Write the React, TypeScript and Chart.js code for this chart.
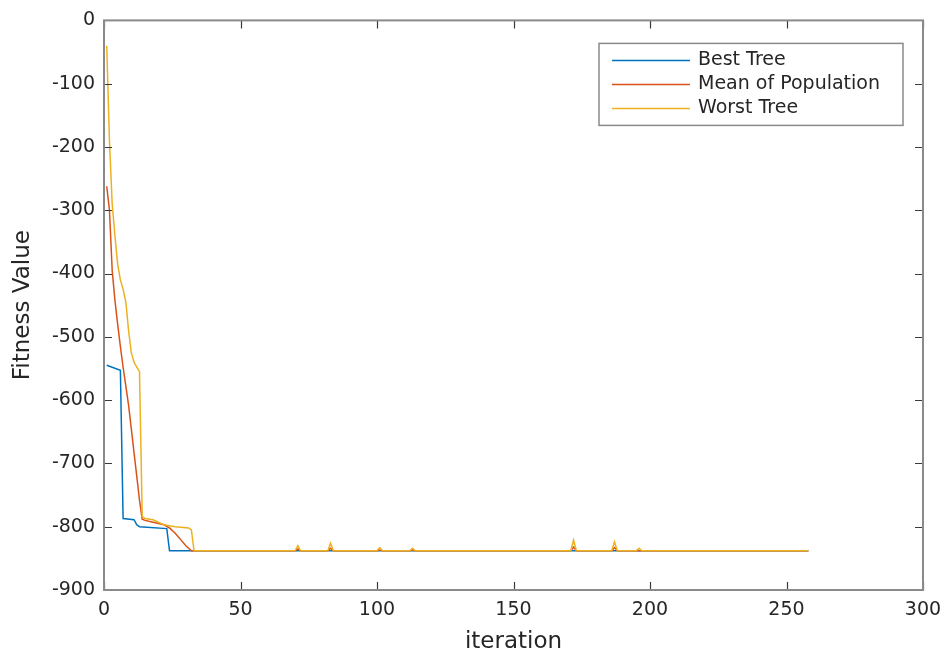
import React, { useEffect, useRef } from "react";
import { Chart, registerables } from "chart.js";

Chart.register(...registerables);

const seriesNames = ["Best Tree", "Mean of Population", "Worst Tree"];
const seriesColors = ["#0072BD", "#D95319", "#EDB120"];

const xTicks = [0, 50, 100, 150, 200, 250, 300];
const yTicks = [0, -100, -200, -300, -400, -500, -600, -700, -800, -900];

const bestIter = [1, 6, 7, 11, 12, 13, 23, 24, 258];
const bestValue = [-545, -553, -787, -789, -797, -800, -803, -838, -838];

const meanIter = [
  1, 2, 3, 4, 5, 6, 7, 8, 9, 10, 11, 12, 13, 14, 15, 18, 22, 24, 26, 28, 30, 32,
  70, 71, 72, 82, 83, 84, 100, 101, 102, 112, 113, 114, 171, 172, 173, 186, 187, 188, 258,
];
const meanValue = [
  -262, -300, -395, -442, -480, -515, -548, -578, -608, -645, -683, -720, -758, -788, -790, -793, -797, -802, -810, -820, -830, -838,
  -838, -835, -838, -838, -834, -838, -838, -837, -838, -838, -837, -838, -838, -832, -838, -838, -833, -838, -838,
];

const worstIter = [
  1, 2, 3, 4, 5, 6, 7, 8, 9, 10, 11, 12, 13, 14, 15, 18, 22, 26, 31, 32, 33,
  70, 71, 72, 82, 83, 84, 100, 101, 102, 112, 113, 114, 171, 172, 173, 186, 187, 188, 195, 196, 197, 258,
];
const worstValue = [
  -40, -190, -290, -340, -385, -410, -425, -445, -490, -525, -540, -548, -555, -784, -787, -789, -797, -800, -802, -805, -838,
  -838, -830, -838, -838, -826, -838, -838, -833, -838, -838, -834, -838, -838, -821, -838, -838, -824, -838, -838, -834, -838, -838,
];

const FONT = "'DejaVu Sans', 'Liberation Sans', Arial, sans-serif";

function pts(xs: number[], ys: number[]) {
  return xs.map((x, i) => ({ x, y: ys[i] }));
}

const framePlugin = {
  id: "matlabFrame",
  afterDraw(chart: any) {
    const { ctx, chartArea: a, scales } = chart;
    ctx.save();
    ctx.strokeStyle = "#3a3a3a";
    ctx.lineWidth = 1.2;
    const tl = 8;
    xTicks.forEach((v) => {
      const px = Math.round(scales.x.getPixelForValue(v)) + 0.5;
      ctx.beginPath();
      ctx.moveTo(px, a.bottom);
      ctx.lineTo(px, a.bottom - tl);
      ctx.moveTo(px, a.top);
      ctx.lineTo(px, a.top + tl);
      ctx.stroke();
    });
    yTicks.forEach((v) => {
      const py = Math.round(scales.y.getPixelForValue(v)) + 0.5;
      ctx.beginPath();
      ctx.moveTo(a.left, py);
      ctx.lineTo(a.left + tl, py);
      ctx.moveTo(a.right, py);
      ctx.lineTo(a.right - tl, py);
      ctx.stroke();
    });
    ctx.strokeStyle = "#8a8a8a";
    ctx.lineWidth = 2;
    ctx.strokeRect(a.left, a.top, a.right - a.left, a.bottom - a.top);

    // legend
    const bw = 304;
    const bh = 82;
    const bx = a.right - 20 - bw;
    const by = a.top + 23;
    ctx.fillStyle = "#ffffff";
    ctx.fillRect(bx, by, bw, bh);
    ctx.strokeStyle = "#8a8a8a";
    ctx.lineWidth = 1.5;
    ctx.strokeRect(bx, by, bw, bh);
    ctx.font = `19px ${FONT}`;
    ctx.textBaseline = "middle";
    ctx.textAlign = "left";
    seriesNames.forEach((name, i) => {
      const y = by + 17 + i * 24;
      ctx.strokeStyle = seriesColors[i];
      ctx.lineWidth = 1.5;
      ctx.beginPath();
      ctx.moveTo(bx + 13, y);
      ctx.lineTo(bx + 91, y);
      ctx.stroke();
      ctx.fillStyle = "#262626";
      ctx.fillText(name, bx + 99, y);
    });
    ctx.restore();
  },
};

export default function App() {
  const ref = useRef<HTMLCanvasElement | null>(null);

  useEffect(() => {
    document.body.style.margin = "0";
    const canvas = ref.current;
    if (!canvas) return;
    const series = [
      pts(bestIter, bestValue),
      pts(meanIter, meanValue),
      pts(worstIter, worstValue),
    ];
    const chart = new Chart(canvas, {
      type: "line",
      data: {
        datasets: series.map((d, i) => ({
          label: seriesNames[i],
          data: d,
          borderColor: seriesColors[i],
          backgroundColor: seriesColors[i],
          borderWidth: 1.5,
          pointRadius: 0,
          tension: 0,
          fill: false,
          order: 2 - i,
        })),
      },
      options: {
        responsive: false,
        animation: false,
        events: [],
        layout: { padding: { top: 19, right: 29, left: 0, bottom: 0 } },
        plugins: {
          legend: { display: false },
          tooltip: { enabled: false },
        },
        scales: {
          x: {
            type: "linear",
            min: 0,
            max: 300,
            afterBuildTicks: (s: any) => {
              s.ticks = xTicks.map((v) => ({ value: v }));
            },
            afterFit: (s: any) => {
              s.height = 70;
            },
            grid: { display: false, drawTicks: false },
            border: { display: false },
            ticks: {
              padding: 9,
              color: "#262626",
              font: { family: FONT, size: 19 },
              maxRotation: 0,
            },
            title: {
              display: true,
              text: "iteration",
              color: "#262626",
              font: { family: FONT, size: 23 },
              padding: { top: 0, bottom: 4 },
            },
          },
          y: {
            type: "linear",
            min: -900,
            max: 0,
            afterBuildTicks: (s: any) => {
              s.ticks = yTicks.map((v) => ({ value: v }));
            },
            afterFit: (s: any) => {
              s.width = 104;
            },
            grid: { display: false, drawTicks: false },
            border: { display: false },
            ticks: {
              padding: 9,
              color: "#262626",
              font: { family: FONT, size: 19 },
            },
            title: {
              display: true,
              text: "Fitness Value",
              color: "#262626",
              font: { family: FONT, size: 23 },
              padding: { top: 9, bottom: 0 },
            },
          },
        },
      },
      plugins: [framePlugin],
    });
    return () => chart.destroy();
  }, []);

  return (
    <div style={{ width: 952, height: 660, background: "#fff" }}>
      <canvas ref={ref} width={952} height={660} style={{ display: "block" }} />
    </div>
  );
}
